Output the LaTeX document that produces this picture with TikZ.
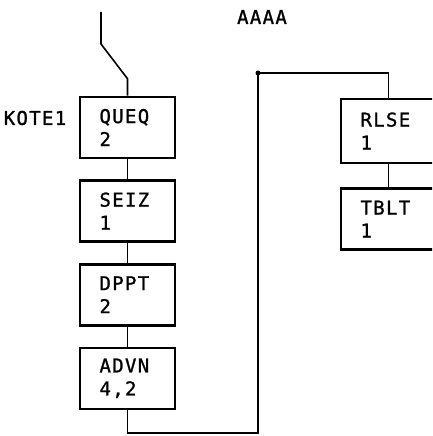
\documentclass[tikz,border=0pt]{standalone}
\usepackage{fontspec}
\newfontfamily\plotfont[LetterSpace=7,FakeBold=1.2]{DejaVu Sans Mono}
\usetikzlibrary{positioning}
\begin{document}
\begin{tikzpicture}[x=1pt, y=-1pt,
  block/.style={
    rectangle, draw, line width=2.6pt, minimum height=61pt,
    text width=56pt, inner xsep=19.5pt, inner ysep=0pt, align=left,
    font=\plotfont\fontsize{19}{23}\selectfont
  },
  tag/.style={font=\plotfont\fontsize{19}{23}\selectfont},
  link/.style={draw, line width=1.6pt},
  node distance=20pt
]
  \useasboundingbox (0,0) rectangle (432,436);
  \clip (0,0) rectangle (432,436);

  % left chain
  \node[block] (queq) at (127.5,127.5) {QUEQ\\2};
  \node[block, below=of queq] (seiz) {SEIZ\\1};
  \node[block, below=of seiz] (dppt) {DPPT\\2};
  \node[block, below=of dppt] (advn) {ADVN\\4,2};

  % right chain
  \node[block, minimum height=64pt] (rlse) at (388.5,131) {RLSE\\1};
  \node[block, below=23pt of rlse] (tblt) {TBLT\\1};

  \node[tag] (kote) at (35,118) {KOTE1};
  \node[tag] (title) at (262,17) {AAAA};

  \coordinate (entry) at (101,12);
  \coordinate (fork) at (258,73);

  \draw[link] (entry) -- ++(0,32) -- ([yshift=17pt]queq.north) -- (queq.north);
  \foreach \a/\b in {queq/seiz, seiz/dppt, dppt/advn, rlse/tblt}
    \draw[link] (\a) -- (\b);
  \draw[link] (advn.south) -- ++(0,23) -| (fork) -| (rlse.north);
  \fill (fork) circle (2.5pt);
\end{tikzpicture}
\end{document}
